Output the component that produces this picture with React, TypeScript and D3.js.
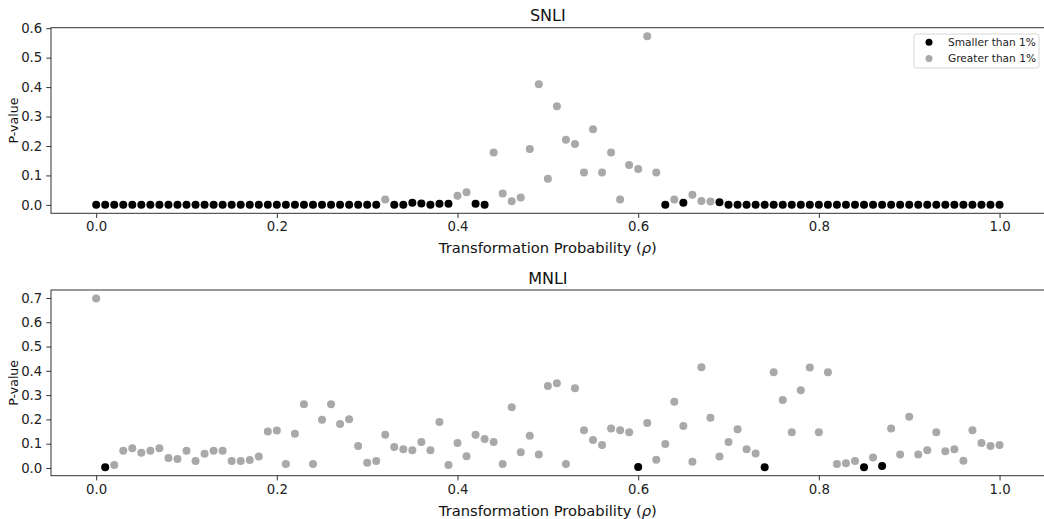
import React, { useEffect, useRef } from "react";
import * as d3 from "d3";

// transformation probability rho, 0.00 .. 1.00 in steps of 0.01
const probabilities = d3.range(0, 101).map((i) => i / 100);

const snliPValues = [
  0, 0, 0, 0, 0, 0, 0, 0, 0, 0,
  0, 0, 0, 0, 0, 0, 0, 0, 0, 0,
  0, 0, 0, 0, 0, 0, 0, 0, 0, 0,
  0, 0, 0.018, 0, 0, 0.007, 0.005, 0, 0.004, 0.004,
  0.031, 0.043, 0.004, 0, 0.178, 0.039, 0.012, 0.025, 0.19, 0.41,
  0.089, 0.335, 0.221, 0.207, 0.11, 0.257, 0.11, 0.178, 0.018, 0.135,
  0.122, 0.573, 0.11, 0, 0.018, 0.007, 0.034, 0.013, 0.011, 0.009,
  0, 0, 0, 0, 0, 0, 0, 0, 0, 0,
  0, 0, 0, 0, 0, 0, 0, 0, 0, 0,
  0, 0, 0, 0, 0, 0, 0, 0, 0, 0,
  0,
];

const mnliPValues = [
  0.698, 0.003, 0.012, 0.071, 0.081, 0.063, 0.071, 0.081, 0.041, 0.037,
  0.071, 0.029, 0.059, 0.071, 0.071, 0.029, 0.029, 0.033, 0.047, 0.15,
  0.154, 0.016, 0.141, 0.262, 0.016, 0.199, 0.262, 0.181, 0.201, 0.091,
  0.022, 0.029, 0.137, 0.086, 0.077, 0.073, 0.107, 0.073, 0.189, 0.012,
  0.103, 0.048, 0.137, 0.119, 0.107, 0.016, 0.25, 0.065, 0.133, 0.056,
  0.338, 0.349, 0.016, 0.328, 0.155, 0.115, 0.095, 0.163, 0.155, 0.147,
  0.004, 0.185, 0.034, 0.099, 0.273, 0.173, 0.026, 0.415, 0.207, 0.047,
  0.107, 0.159, 0.077, 0.06, 0.003, 0.394, 0.28, 0.147, 0.32, 0.414,
  0.147, 0.394, 0.016, 0.02, 0.029, 0.003, 0.043, 0.008, 0.163, 0.056,
  0.211, 0.056, 0.073, 0.147, 0.069, 0.077, 0.03, 0.155, 0.103, 0.091,
  0.095,
];

const xTicks = [0, 0.2, 0.4, 0.6, 0.8, 1.0];
const snliYTicks = [0, 0.1, 0.2, 0.3, 0.4, 0.5, 0.6];
const mnliYTicks = [0, 0.1, 0.2, 0.3, 0.4, 0.5, 0.6, 0.7];
const legendLabels = ["Smaller than 1%", "Greater than 1%"];
const threshold = 0.01;

const FONT = "DejaVu Sans, sans-serif";
const DARK = "#000000";
const GRAY = "#a9a9a9";

const App = () => {
  const svgRef = useRef(null);

  useEffect(() => {
    const svg = d3.select(svgRef.current);
    svg.selectAll("*").remove();

    const left = 51;
    const right = 1044.7;

    const panels = [
      { title: "SNLI", values: snliPValues, yTicks: snliYTicks, top: 27.7, bottom: 213.3, legend: true },
      { title: "MNLI", values: mnliPValues, yTicks: mnliYTicks, top: 290, bottom: 475.7, legend: false },
    ];

    // matplotlib-like 5% margins
    const pad = (lo, hi) => [lo - (hi - lo) * 0.05, hi + (hi - lo) * 0.05];

    const x = d3.scaleLinear().domain(pad(0, 1)).range([left, right]);

    panels.forEach((p) => {
      const [lo, hi] = pad(d3.min(p.values), d3.max(p.values));
      const y = d3.scaleLinear().domain([lo, hi]).range([p.bottom, p.top]);
      const g = svg.append("g");

      // axes
      const xAxis = g.append("g")
        .attr("transform", `translate(0,${p.bottom})`)
        .call(d3.axisBottom(x).tickValues(xTicks).tickFormat(d3.format(".1f")).tickSize(4.7).tickPadding(4).tickSizeOuter(0));
      const yAxis = g.append("g")
        .attr("transform", `translate(${left},0)`)
        .call(d3.axisLeft(y).tickValues(p.yTicks).tickFormat(d3.format(".1f")).tickSize(4.7).tickPadding(4).tickSizeOuter(0));
      [xAxis, yAxis].forEach((a) => {
        a.select(".domain").remove();
        a.selectAll(".tick line").attr("stroke", "#333").attr("stroke-width", 1);
        a.selectAll(".tick text").attr("fill", "#222").attr("font-family", FONT).attr("font-size", 13.3);
      });

      // spines
      g.append("rect")
        .attr("x", left)
        .attr("y", p.top)
        .attr("width", right - left)
        .attr("height", p.bottom - p.top)
        .attr("fill", "none")
        .attr("stroke", "#333")
        .attr("stroke-width", 1);

      // points
      const pts = probabilities.map((rho, i) => ({ rho, v: p.values[i] }));
      g.append("g")
        .selectAll("circle")
        .data(pts)
        .join("circle")
        .attr("cx", (d) => x(d.rho))
        .attr("cy", (d) => y(d.v))
        .attr("r", 4)
        .attr("fill", (d) => (d.v < threshold ? DARK : GRAY));

      // title
      g.append("text")
        .attr("x", (left + right) / 2)
        .attr("y", p.top - 6.5)
        .attr("text-anchor", "middle")
        .attr("font-family", FONT)
        .attr("font-size", 16)
        .attr("fill", "#111")
        .text(p.title);

      // x label
      const xl = g.append("text")
        .attr("x", (left + right) / 2)
        .attr("y", p.bottom + 40)
        .attr("text-anchor", "middle")
        .attr("font-family", FONT)
        .attr("font-size", 14.7)
        .attr("fill", "#111");
      xl.append("tspan").text("Transformation Probability (");
      xl.append("tspan").attr("font-style", "italic").text("ρ");
      xl.append("tspan").text(")");

      // y label
      g.append("text")
        .attr("transform", `translate(18,${(p.top + p.bottom) / 2}) rotate(-90)`)
        .attr("text-anchor", "middle")
        .attr("font-family", FONT)
        .attr("font-size", 12.6)
        .attr("fill", "#111")
        .text("P-value");

      if (p.legend) {
        const lg = g.append("g");
        lg.append("rect")
          .attr("x", 914)
          .attr("y", 34)
          .attr("width", 125)
          .attr("height", 34)
          .attr("rx", 2.5)
          .attr("fill", "white")
          .attr("fill-opacity", 0.8)
          .attr("stroke", "#d6d6d6");
        legendLabels.forEach((label, i) => {
          lg.append("circle")
            .attr("cx", 929)
            .attr("cy", 42.2 + i * 16.3)
            .attr("r", 3.5)
            .attr("fill", i === 0 ? DARK : GRAY);
          lg.append("text")
            .attr("x", 948)
            .attr("y", 46 + i * 16.3)
            .attr("font-family", FONT)
            .attr("font-size", 10.6)
            .attr("fill", "#222")
            .text(label);
        });
      }
    });
  }, []);

  return (
    <svg
      ref={svgRef}
      width={1044}
      height={519}
      style={{ position: "absolute", left: 0, top: 0, background: "white" }}
    ></svg>
  );
};

export default App;
